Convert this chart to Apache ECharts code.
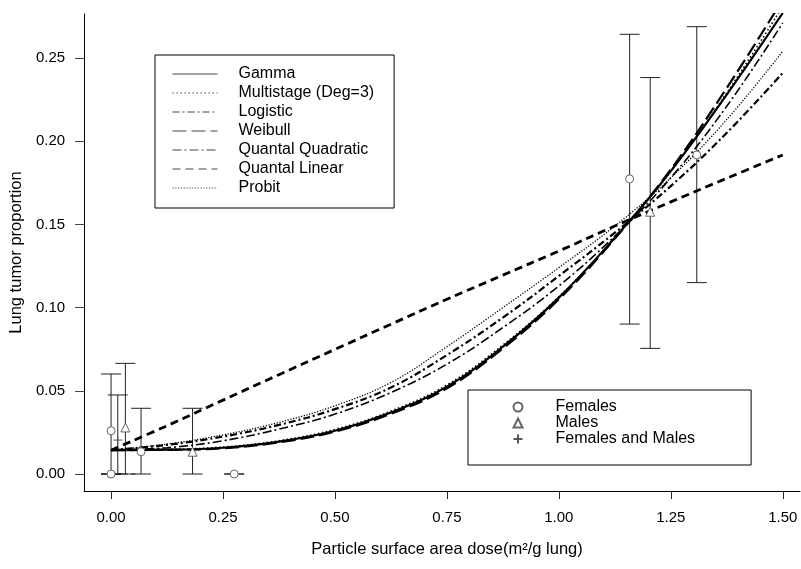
<!DOCTYPE html>
<html>
<head>
<meta charset="utf-8">
<script src="https://cdn.jsdelivr.net/npm/echarts@6/dist/echarts.min.js"></script>
<style>
  html, body { margin: 0; padding: 0; background: #fff; }
  #chart { width: 801px; height: 569px; }
</style>
</head>
<body>
<div id="chart"></div>
<script>
// ---------- data ----------
const doseGrid = [0, 0.125, 0.25, 0.375, 0.5, 0.625, 0.75, 0.875, 1.0, 1.125, 1.25, 1.375, 1.5];
const gammaFit       = [0.0144, 0.0146, 0.0158, 0.0195, 0.0260, 0.0370, 0.0525, 0.0765, 0.1060, 0.1420, 0.1820, 0.2280, 0.2770];
const multistageFit  = [0.0144, 0.0148, 0.0162, 0.0200, 0.0268, 0.0378, 0.0535, 0.0775, 0.1065, 0.1420, 0.1820, 0.2290, 0.2810];
const logisticFit    = [0.0144, 0.0175, 0.0225, 0.0295, 0.0390, 0.0520, 0.0715, 0.0940, 0.1190, 0.1450, 0.1730, 0.2050, 0.2410];
const weibullFit     = [0.0144, 0.0145, 0.0155, 0.0190, 0.0255, 0.0362, 0.0515, 0.0755, 0.1050, 0.1415, 0.1830, 0.2320, 0.2850];
const quadraticFit   = [0.0144, 0.0158, 0.0200, 0.0270, 0.0360, 0.0490, 0.0660, 0.0880, 0.1130, 0.1430, 0.1780, 0.2210, 0.2710];
const linearFit      = [0.0143, 0.0290, 0.0444, 0.0597, 0.0749, 0.0900, 0.1050, 0.1195, 0.1340, 0.1490, 0.1635, 0.1777, 0.1917];
const probitFit      = [0.0144, 0.0180, 0.0235, 0.0310, 0.0410, 0.0550, 0.0765, 0.1000, 0.1240, 0.1490, 0.1780, 0.2130, 0.2540];

const femalesDose = [0.000, 0.000, 0.067, 0.275, 1.158, 1.308];
const femalesProp = [0.026, 0.000, 0.0134, 0.000, 0.1773, 0.1917];
const femalesLow  = [0.000, 0.000, 0.000, 0.000, 0.0901, 0.1150];
const femalesHigh = [0.0601, 0.000, 0.0395, 0.000, 0.2642, 0.2688];

const malesDose = [0.032, 0.182, 1.204];
const malesProp = [0.028, 0.0134, 0.1576];
const malesLow  = [0.000, 0.000, 0.0755];
const malesHigh = [0.0665, 0.0395, 0.2382];

const bothDose = [0.015];
const bothProp = [0.0204];
const bothLow  = [0.000];
const bothHigh = [0.0475];

const xTicks = [0, 0.25, 0.5, 0.75, 1.0, 1.25, 1.5];
const yTicks = [0, 0.05, 0.10, 0.15, 0.20, 0.25];

const curveNames = ['Gamma', 'Multistage (Deg=3)', 'Logistic', 'Weibull', 'Quantal Quadratic', 'Quantal Linear', 'Probit'];
const groupNames = ['Females', 'Males', 'Females and Males'];

// ---------- helpers ----------
const FONT = '"Liberation Sans", Arial, Helvetica, sans-serif';
const zip = (xs, ys) => xs.map((x, i) => [x, ys[i]]);
const errRows = (xs, lo, hi) => xs.map((x, i) => [x, lo[i], hi[i]]);

function curve(name, values, type, width, z) {
  return {
    name, type: 'line', data: zip(doseGrid, values),
    smooth: 0.4, symbol: 'none', showSymbol: false,
    lineStyle: { color: '#000', width, type, cap: 'butt' },
    itemStyle: { color: '#000' },
    z: z || 3, silent: true
  };
}

const errorData = []
  .concat(errRows(femalesDose, femalesLow, femalesHigh))
  .concat(errRows(malesDose, malesLow, malesHigh))
  .concat(errRows(bothDose, bothLow, bothHigh));

const chart = echarts.init(document.getElementById('chart'), null, { renderer: 'canvas' });

const option = {
  animation: false,
  backgroundColor: '#fff',
  textStyle: { fontFamily: FONT },
  grid: { left: 83, top: 14, right: 1, bottom: 78, containLabel: false },
  xAxis: {
    type: 'value', min: -0.0602, max: 1.5385,
    axisLine: { show: true, onZero: false, lineStyle: { color: '#000', width: 1 } },
    axisTick: { show: true, length: 8, customValues: xTicks, lineStyle: { color: '#222' } },
    axisLabel: { customValues: xTicks, formatter: v => v.toFixed(2), fontSize: 15, color: '#000', margin: 19, fontFamily: FONT },
    splitLine: { show: false },
    name: 'Particle surface area dose(m\u00B2/g lung)',
    nameLocation: 'middle', nameGap: 50,
    nameTextStyle: { fontSize: 16.5, color: '#000', fontFamily: FONT, padding: [0, 0, 0, 10] }
  },
  yAxis: {
    type: 'value', min: -0.0102, max: 0.2764,
    axisLine: { show: true, onZero: false, lineStyle: { color: '#000', width: 1 } },
    axisTick: { show: true, length: 9, customValues: yTicks, lineStyle: { color: '#444' } },
    axisLabel: { customValues: yTicks, formatter: v => v.toFixed(2), fontSize: 15, color: '#000', margin: 19, fontFamily: FONT },
    splitLine: { show: false },
    name: 'Lung tumor proportion',
    nameLocation: 'middle', nameGap: 56, nameRotate: 90,
    nameTextStyle: { fontSize: 16.5, color: '#000', fontFamily: FONT }
  },
  legend: [
    {
      data: curveNames, orient: 'vertical', left: 155, top: 55,
      padding: [11, 20, 12, 17],
      itemWidth: 45, itemHeight: 14, itemGap: 3,
      borderColor: '#000', borderWidth: 1, backgroundColor: '#fff',
      selectedMode: false,
      lineStyle: { width: 1, color: '#444' },
      itemStyle: { opacity: 0 },
      formatter: n => '{g| }{t|' + n + '}',
      textStyle: {
        fontSize: 16, color: '#000', fontFamily: FONT,
        rich: { g: { width: 16, fontSize: 16 }, t: { fontSize: 16, color: '#000', fontFamily: FONT } }
      }
    },
    {
      data: groupNames, orient: 'vertical', left: 468, top: 390,
      padding: [9, 56, 18, 43],
      itemWidth: 9, itemHeight: 9, itemGap: 0,
      borderColor: '#000', borderWidth: 1, backgroundColor: '#fff',
      selectedMode: false,
      formatter: n => '{g| }{t|' + n + '}',
      textStyle: {
        fontSize: 16, color: '#000', fontFamily: FONT,
        rich: { g: { width: 28, fontSize: 16 }, t: { fontSize: 16, color: '#000', fontFamily: FONT } }
      }
    }
  ],
  series: [
    {
      name: 'error bars', type: 'custom', data: errorData, z: 1, silent: true,
      encode: { x: 0, y: [1, 2] },
      renderItem: (params, api) => {
        const x = api.value(0);
        const lo = api.coord([x, api.value(1)]);
        const hi = api.coord([x, api.value(2)]);
        const w = 10;
        const st = { stroke: '#222', lineWidth: 1 };
        return {
          type: 'group',
          children: [
            { type: 'line', shape: { x1: lo[0], y1: lo[1], x2: hi[0], y2: hi[1] }, style: st },
            { type: 'line', shape: { x1: lo[0] - w, y1: lo[1], x2: lo[0] + w, y2: lo[1] }, style: st },
            { type: 'line', shape: { x1: hi[0] - w, y1: hi[1], x2: hi[0] + w, y2: hi[1] }, style: st }
          ]
        };
      }
    },
    curve('Gamma', gammaFit, 'solid', 2.2, 4),
    curve('Multistage (Deg=3)', multistageFit, [1.5, 2.5], 1.6, 4),
    curve('Logistic', logisticFit, [7, 3, 2, 3], 2.2, 4),
    curve('Weibull', weibullFit, [14, 5], 2.2, 4),
    curve('Quantal Quadratic', quadraticFit, [9, 3, 2, 3], 1.6, 4),
    curve('Quantal Linear', linearFit, [8, 5], 2.8, 4),
    curve('Probit', probitFit, [1.2, 1.6], 1.3, 4),
    {
      name: 'Females', type: 'scatter', data: zip(femalesDose, femalesProp),
      symbol: 'circle', symbolSize: 8, z: 6, silent: true,
      itemStyle: { color: '#fff', borderColor: '#666', borderWidth: 1, opacity: 1 }
    },
    {
      name: 'Males', type: 'scatter', data: zip(malesDose, malesProp),
      symbol: 'triangle', symbolSize: 9, z: 6, silent: true,
      itemStyle: { color: '#fff', borderColor: '#666', borderWidth: 1, opacity: 1 }
    },
    {
      name: 'Females and Males', type: 'scatter', data: zip(bothDose, bothProp),
      symbol: 'path://M5,0L5,10M0,5L10,5', symbolSize: 9, z: 6, silent: true,
      itemStyle: { color: 'none', borderColor: '#555', borderWidth: 1, opacity: 1 }
    }
  ]
};
chart.setOption(option);
</script>
</body>
</html>
